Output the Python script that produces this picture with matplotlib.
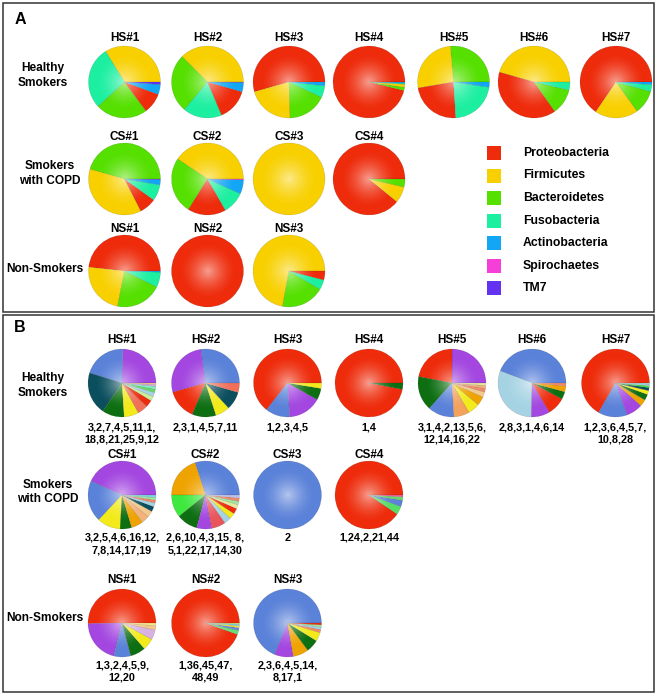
import numpy as np
import matplotlib
matplotlib.use("Agg")
import matplotlib.pyplot as plt
from matplotlib.patches import Rectangle, Circle

W, H = 658, 696
plt.rcParams['font.family'] = ['Liberation Sans', 'DejaVu Sans']

# ---------------- Panel A data (phylum %) ----------------
phyla = ["Proteobacteria", "Firmicutes", "Bacteroidetes", "Fusobacteria",
         "Actinobacteria", "Spirochaetes", "TM7"]
phylum_colors = ["#EE2B0B", "#F8D000", "#55E000", "#1DEFA0",
                 "#12A6F5", "#F53FD8", "#6233F0"]

a_hs_names = ["HS#1", "HS#2", "HS#3", "HS#4", "HS#5", "HS#6", "HS#7"]
a_hs_values = [
    [9.2, 33.8, 23.3, 28.1, 4.5, 0, 1.1],
    [14.2, 37.5, 26.4, 17.5, 4.2, 0, 0.2],
    [54.4, 21.1, 17.5, 5.3, 1.7, 0, 0],
    [96.2, 1.3, 1.5, 0.5, 0.5, 0, 0],
    [23.3, 26.3, 26.4, 21.7, 2.3, 0, 0],
    [39.2, 45.6, 11.6, 3.6, 0, 0, 0],
    [65.5, 19.5, 10.7, 3.1, 1.2, 0, 0],
]
a_cs_names = ["CS#1", "CS#2", "CS#3", "CS#4"]
a_cs_values = [
    [7.6, 36.9, 45.6, 7.3, 2.3, 0, 0.3],
    [17.2, 40.6, 25.5, 10.0, 6.3, 0.4, 0],
    [0, 100, 0, 0, 0, 0, 0],
    [89.1, 7.3, 3.6, 0, 0, 0, 0],
]
a_ns_names = ["NS#1", "NS#2", "NS#3"]
a_ns_values = [
    [48.3, 23.6, 20.8, 6.8, 0.5, 0, 0],
    [100, 0, 0, 0, 0, 0, 0],
    [4.0, 72.1, 19.4, 4.5, 0, 0, 0],
]

# ---------------- Panel B data (OTU %) ----------------
b_hs_otus = [
    [3, 2, 7, 4, 5, 11, 1, 18, 8, 21, 25, 9, 12],
    [2, 3, 1, 4, 5, 7, 11],
    [1, 2, 3, 4, 5],
    [1, 4],
    [3, 1, 4, 2, 13, 5, 6, 12, 14, 16, 22],
    [2, 8, 3, 1, 4, 6, 14],
    [1, 2, 3, 6, 4, 5, 7, 10, 8, 28],
]
b_hs_values = [
    [24.7, 20.5, 20.3, 10.5, 7, 5, 3.3, 2.2, 2, 1.6, 1.3, 0.9, 0.7],
    [27.2, 27.2, 14.2, 11.4, 6.9, 8.6, 4.5],
    [64.4, 11.7, 15.8, 5.5, 2.6],
    [97, 3],
    [25, 22, 16.4, 12.5, 7.5, 5.6, 4.2, 2.5, 1.7, 1.4, 1.2],
    [44.2, 30.5, 8.9, 8.6, 3.6, 2.8, 1.4],
    [66.7, 13.9, 7.8, 3.3, 2.8, 1.9, 1.4, 0.9, 0.8, 0.5],
]
b_hs_labels = ["3,2,7,4,5,11,1,\n18,8,21,25,9,12", "2,3,1,4,5,7,11", "1,2,3,4,5",
               "1,4", "3,1,4,2,13,5,6,\n12,14,16,22", "2,8,3,1,4,6,14",
               "1,2,3,6,4,5,7,\n10,8,28"]

b_cs_otus = [
    [3, 2, 5, 4, 6, 16, 12, 7, 8, 14, 17, 19],
    [2, 6, 10, 4, 3, 15, 8, 5, 1, 22, 17, 14, 30],
    [2],
    [1, 24, 2, 21, 44],
]
b_cs_values = [
    [43.3, 19.7, 11.1, 5.5, 5.6, 3.8, 3, 2.4, 1.8, 1.4, 1.2, 1.2],
    [30, 20, 10.8, 10, 7.2, 6.7, 3.3, 2.8, 2.6, 2, 1.6, 1.6, 1.4],
    [100],
    [90.5, 4, 3, 1.6, 0.9],
]
b_cs_labels = ["3,2,5,4,6,16,12,\n7,8,14,17,19", "2,6,10,4,3,15, 8,\n5,1,22,17,14,30",
               "2", "1,24,2,21,44"]

b_ns_otus = [
    [1, 3, 2, 4, 5, 9, 12, 20],
    [1, 36, 45, 47, 48, 49],
    [2, 3, 6, 4, 5, 14, 8, 17, 1],
]
b_ns_values = [
    [50.3, 20.8, 8.1, 7.2, 5.6, 4.7, 2.0, 1.3],
    [94.5, 2, 1.2, 1, 0.7, 0.6],
    [68.9, 8.9, 7.4, 6.0, 4.2, 1.5, 1.2, 1.0, 0.9],
]
b_ns_labels = ["1,3,2,4,5,9,\n12,20", "1,36,45,47,\n48,49", "2,3,6,4,5,14,\n8,17,1"]

otu_colors = {
    1: "#EE2C0C", 2: "#5B82D9", 3: "#A347E0", 4: "#0D6E12", 5: "#F2EA1A",
    6: "#EFA300", 7: "#0B4F5E", 8: "#A6D3E3", 9: "#D9B2E3", 10: "#3EE83E",
    11: "#F0705A", 12: "#F2C98A", 13: "#F3A25C", 14: "#F08A6A", 15: "#E8555A",
    16: "#F3B27A", 17: "#9FE89F", 18: "#C8EE9A", 19: "#7FD8E0", 20: "#F5E68C",
    21: "#66D966", 22: "#E8E8A0", 24: "#55DD66", 25: "#7FEFC8", 28: "#A0E8E8",
    30: "#C0C0F0", 36: "#66DD77", 44: "#F060A0", 45: "#6688DD", 47: "#E8E040",
    48: "#80E0F0", 49: "#C0E080",
}

# ---------------- Drawing ----------------
fig = plt.figure(figsize=(W / 100, H / 100), dpi=100)
ax = fig.add_axes([0, 0, 1, 1])


def Y(y):
    return H - y


n = 121
gx, gy = np.meshgrid(np.linspace(-1, 1, n), np.linspace(-1, 1, n))
dist = np.hypot(gx, gy)
glow = np.zeros((n, n, 4))
glow[..., :3] = 1.0
glow[..., 3] = 0.55 * np.clip(1 - dist / 0.8, 0, 1) ** 1.6


def draw_pie(cx, cy, r, vals, cols):
    pairs = [(v, c) for v, c in zip(vals, cols) if v > 0]
    v = [p[0] for p in pairs]
    c = [p[1] for p in pairs]
    ax.pie(v, colors=c, startangle=0, counterclock=True, center=(cx, Y(cy)),
           radius=r, frame=True,
           wedgeprops=dict(linewidth=0.3, edgecolor=(0, 0, 0, 0.2)))
    circ = Circle((cx, Y(cy)), r, transform=ax.transData,
                  facecolor="none", edgecolor="none")
    ax.add_patch(circ)
    im = ax.imshow(glow, extent=(cx - r, cx + r, Y(cy) - r, Y(cy) + r),
                   zorder=3, interpolation="bilinear")
    im.set_clip_path(circ)


bold = dict(fontweight="bold", color="black", ha="center", va="center")

# panel boxes
ax.add_patch(Rectangle((3, Y(312)), 651, 309, facecolor="none",
                       edgecolor="#333333", lw=1.1, zorder=5))
ax.add_patch(Rectangle((3, Y(692)), 651, 377, facecolor="none",
                       edgecolor="#333333", lw=1.1, zorder=5))
ax.text(20, Y(20), "A", fontsize=11.5, **bold)
ax.text(20, Y(327), "B", fontsize=11.5, **bold)

# ---- Panel A ----
colA = [124.5, 207.5, 289, 369, 453.5, 534, 616]
rA = 36


def phylum_pie(cx, cy, vals):
    order = sorted(range(len(vals)), key=lambda i: -vals[i])
    draw_pie(cx, cy, rA, [vals[i] for i in order],
             [phylum_colors[i] for i in order])


for names, values, ty, py in [(a_hs_names, a_hs_values, 38, 82),
                              (a_cs_names, a_cs_values, 137, 179),
                              (a_ns_names, a_ns_values, 229, 271)]:
    for i, (nm, vals) in enumerate(zip(names, values)):
        ax.text(colA[i], Y(ty), nm, fontsize=8.5, **bold)
        phylum_pie(colA[i], py, vals)

for lines, x, ys in [(["Healthy", "Smokers"], 43, [68, 83]),
                     (["Smokers", "with COPD"], 50, [166, 181]),
                     (["Non-Smokers"], 45, [269])]:
    for t, yy in zip(lines, ys):
        ax.text(x, Y(yy), t, fontsize=8.6, **bold)

for i, (nm, col) in enumerate(zip(phyla, phylum_colors)):
    yy = 153 + i * 22.5
    ax.add_patch(Rectangle((487, Y(yy) - 7), 14, 14, facecolor=col,
                           edgecolor="none", zorder=4))
    ax.text(523, Y(yy), nm, fontsize=8.8, fontweight="bold", ha="left",
            va="center")

# ---- Panel B ----
colB = [122, 205.5, 287.5, 369, 452, 532, 615.5]
rB = 34
for otus, values, labels, ty, py, ly in [
        (b_hs_otus, b_hs_values, b_hs_labels, 340, 383, 427),
        (b_cs_otus, b_cs_values, b_cs_labels, 455, 495, 538),
        (b_ns_otus, b_ns_values, b_ns_labels, 580, 623, 665)]:
    names = {340: a_hs_names, 455: a_cs_names, 580: a_ns_names}[ty]
    for i, (ids, vals, lab) in enumerate(zip(otus, values, labels)):
        ax.text(colB[i], Y(ty), names[i], fontsize=8.5, **bold)
        draw_pie(colB[i], py, rB, vals, [otu_colors[o] for o in ids])
        for k, line in enumerate(lab.split("\n")):
            ax.text(colB[i], Y(ly + 12.5 * k), line, fontsize=7.8, **bold)

for lines, x, ys in [(["Healthy", "Smokers"], 43, [378, 393]),
                     (["Smokers", "with COPD"], 48, [485, 499]),
                     (["Non-Smokers"], 45, [618])]:
    for t, yy in zip(lines, ys):
        ax.text(x, Y(yy), t, fontsize=8.6, **bold)

ax.set_xlim(0, W)
ax.set_ylim(0, H)
ax.set_aspect("equal")
ax.axis("off")
fig.savefig("out.png", dpi=100, facecolor="white")
